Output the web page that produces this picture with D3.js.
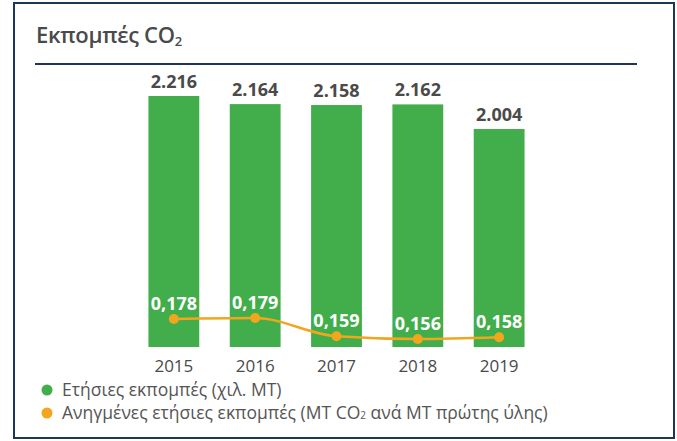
<!DOCTYPE html>
<html>
<head>
<meta charset="utf-8">
<script src="https://cdn.jsdelivr.net/npm/d3@7"></script>
<style>
  body { margin: 0; background: #fff; }
  text { font-family: "Open Sans", "Noto Sans", sans-serif; }
</style>
</head>
<body>
<div id="chart"></div>
<script>
var years = ["2015", "2016", "2017", "2018", "2019"];
var emissions = [2.216, 2.164, 2.158, 2.162, 2.004];      // χιλ. ΜΤ
var intensity = [0.178, 0.179, 0.159, 0.156, 0.158];      // ΜΤ CO2 ανά ΜΤ πρώτης ύλης
var legendLabels = ["Ετήσιες εκπομπές (χιλ. ΜΤ)", "Ανηγμένες ετήσιες εκπομπές (ΜΤ CO", "2", " ανά ΜΤ πρώτης ύλης)"];

var width = 677, height = 441;
var navy = "#1b365d", green = "#41ae4b", orange = "#f2a61e", grey = "#4a4a4a";

var svg = d3.select("#chart").append("svg")
    .attr("width", width)
    .attr("height", height);

// frame
svg.append("rect")
    .attr("x", 14).attr("y", 3)
    .attr("width", 660).attr("height", 435)
    .attr("fill", "none")
    .attr("stroke", navy)
    .attr("stroke-width", 2);

// title
var title = svg.append("text")
    .attr("x", 36).attr("y", 43)
    .attr("fill", grey)
    .attr("font-size", 22)
    .attr("font-weight", 600)
    .attr("letter-spacing", -0.3);
title.append("tspan").text("Εκπομπές CO");
title.append("tspan").attr("font-size", 13).attr("dy", 3).text("2");

svg.append("line")
    .attr("x1", 35).attr("x2", 637)
    .attr("y1", 64).attr("y2", 64)
    .attr("stroke", navy)
    .attr("stroke-width", 2);

var x = d3.scaleBand()
    .domain(years)
    .range([133, 540])
    .paddingInner(0.375)
    .paddingOuter(0.19);

var y = d3.scaleLinear()
    .domain([0.604, 2.216])
    .range([347, 96]);

var yLine = d3.scaleLinear()
    .domain([0.156, 0.179])
    .range([339, 318]);

var rows = years.map(function(d, i) {
  return { year: d, value: emissions[i], ratio: intensity[i] };
});

// bars
svg.append("g").selectAll("rect")
  .data(rows)
  .enter().append("rect")
    .attr("x", function(d) { return x(d.year); })
    .attr("y", function(d) { return y(d.value); })
    .attr("width", x.bandwidth())
    .attr("height", function(d) { return y.range()[0] - y(d.value); })
    .attr("fill", green);

// bar value labels
svg.append("g").selectAll("text")
  .data(rows)
  .enter().append("text")
    .attr("x", function(d) { return x(d.year) + x.bandwidth() / 2; })
    .attr("y", function(d) { return y(d.value) - 8; })
    .attr("text-anchor", "middle")
    .attr("fill", grey)
    .attr("font-size", 18)
    .attr("font-weight", 700)
    .text(function(d) { return d3.format(".3f")(d.value); });

// intensity line
var line = d3.line()
    .x(function(d) { return x(d.year) + x.bandwidth() / 2; })
    .y(function(d) { return yLine(d.ratio); })
    .curve(d3.curveMonotoneX);

svg.append("path")
    .datum(rows)
    .attr("d", line)
    .attr("fill", "none")
    .attr("stroke", orange)
    .attr("stroke-width", 2.5);

svg.append("g").selectAll("circle")
  .data(rows)
  .enter().append("circle")
    .attr("cx", function(d) { return x(d.year) + x.bandwidth() / 2; })
    .attr("cy", function(d) { return yLine(d.ratio); })
    .attr("r", 5)
    .attr("fill", orange);

svg.append("g").selectAll("text")
  .data(rows)
  .enter().append("text")
    .attr("x", function(d) { return x(d.year) + x.bandwidth() / 2; })
    .attr("y", function(d) { return yLine(d.ratio) - 9; })
    .attr("text-anchor", "middle")
    .attr("fill", "#fff")
    .attr("font-size", 18)
    .attr("font-weight", 700)
    .text(function(d) { return d3.format(".3f")(d.ratio).replace(".", ","); });

// year axis (no line, no ticks)
var xAxis = svg.append("g")
    .attr("transform", "translate(0,357)")
    .call(d3.axisBottom(x).tickSize(0).tickPadding(0));
xAxis.select(".domain").remove();
xAxis.selectAll("text")
    .attr("dy", "0.9em")
    .attr("fill", grey)
    .attr("font-size", 17)
    .attr("font-family", "\"Open Sans\", sans-serif");

// legend
var legend = svg.append("g").attr("transform", "translate(47,0)");
legend.append("circle").attr("cx", 0).attr("cy", 390).attr("r", 5.5).attr("fill", green);
legend.append("text")
    .attr("x", 15).attr("y", 396)
    .attr("fill", "#555").attr("font-size", 17.5)
    .text(legendLabels[0]);
legend.append("circle").attr("cx", 0).attr("cy", 413).attr("r", 5.5).attr("fill", orange);
var lt = legend.append("text")
    .attr("x", 15).attr("y", 419)
    .attr("fill", "#555").attr("font-size", 17.5);
lt.append("tspan").text(legendLabels[1]);
lt.append("tspan").attr("font-size", 10).text(legendLabels[2]);
lt.append("tspan").text(legendLabels[3]);
</script>
</body>
</html>
